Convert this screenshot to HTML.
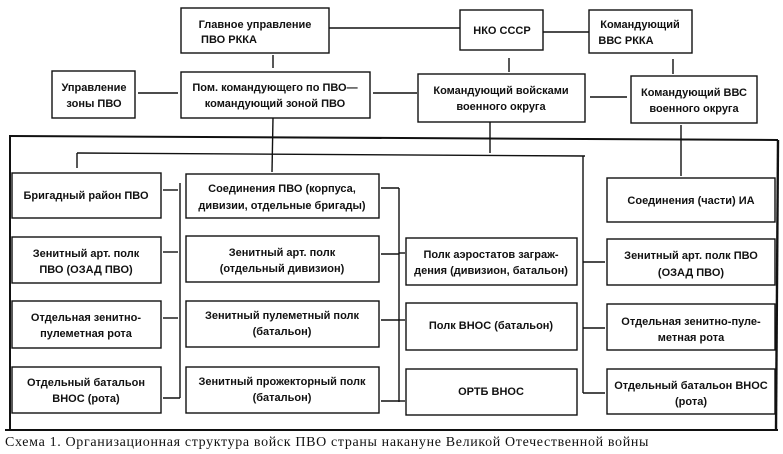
<!DOCTYPE html>
<html><head><meta charset="utf-8"><style>
html,body{margin:0;padding:0;background:#fff;}
svg{display:block}
text{font-family:"Liberation Sans","DejaVu Sans",sans-serif;font-weight:bold;font-size:11px;fill:#111;text-anchor:middle}
.c{font-family:"Liberation Serif",serif;font-weight:normal;font-size:14px;letter-spacing:0.65px;text-anchor:start}
</style></head><body>
<svg width="783" height="454" viewBox="0 0 783 454">
<g stroke="#111" stroke-width="1.4" fill="none">
<rect x="181" y="8" width="148" height="45"/>
<rect x="460" y="10" width="83" height="40"/>
<rect x="589" y="10" width="103" height="43"/>
<rect x="52" y="71" width="83" height="47"/>
<rect x="181" y="72" width="189" height="46"/>
<rect x="418" y="74" width="167" height="48"/>
<rect x="631" y="76" width="126" height="47"/>

<rect x="12" y="173" width="149" height="45"/>
<rect x="12" y="237" width="149" height="46"/>
<rect x="12" y="301" width="149" height="47"/>
<rect x="12" y="367" width="149" height="46"/>

<rect x="186" y="174" width="193" height="44"/>
<rect x="186" y="236" width="193" height="46"/>
<rect x="186" y="301" width="193" height="46"/>
<rect x="186" y="367" width="193" height="46"/>

<rect x="406" y="238" width="171" height="47"/>
<rect x="406" y="303" width="171" height="47"/>
<rect x="406" y="369" width="171" height="46"/>

<rect x="607" y="178" width="168" height="44"/>
<rect x="607" y="239" width="168" height="46"/>
<rect x="607" y="304" width="168" height="46"/>
<rect x="607" y="369" width="168" height="45"/>

<line x1="329" y1="28" x2="460" y2="28"/>
<line x1="543" y1="32" x2="589" y2="32"/>
<line x1="273" y1="55" x2="273" y2="68"/>
<line x1="509" y1="58" x2="509" y2="72"/>
<line x1="673" y1="59" x2="673" y2="74"/>
<line x1="138" y1="93" x2="178" y2="93"/>
<line x1="373" y1="93" x2="417" y2="93"/>
<line x1="590" y1="97" x2="627" y2="97"/>

<line x1="10" y1="136" x2="778" y2="140" stroke-width="2"/>
<line x1="10" y1="135" x2="10" y2="430" stroke-width="2"/>
<line x1="778" y1="140" x2="776" y2="430" stroke-width="2.4"/>
<line x1="5" y1="430" x2="778" y2="430" stroke-width="2"/>

<line x1="77" y1="153" x2="585" y2="156"/>
<line x1="77" y1="153" x2="77" y2="168"/>
<line x1="273" y1="118" x2="272" y2="172"/>
<line x1="490" y1="122" x2="490" y2="153"/>
<line x1="681" y1="125" x2="681" y2="176"/>
<line x1="583" y1="156" x2="583" y2="393"/>

<line x1="180" y1="183" x2="180" y2="398"/>
<line x1="163" y1="190" x2="178" y2="190"/>
<line x1="163" y1="252" x2="178" y2="252"/>
<line x1="163" y1="318" x2="178" y2="318"/>
<line x1="163" y1="398" x2="180" y2="398"/>

<line x1="399" y1="188" x2="399" y2="402"/>
<line x1="381" y1="188" x2="399" y2="188"/>
<line x1="381" y1="254" x2="399" y2="254"/>
<line x1="381" y1="320" x2="399" y2="320"/>
<line x1="381" y1="401" x2="399" y2="401"/>
<line x1="399" y1="253" x2="405" y2="253"/>
<line x1="399" y1="320" x2="405" y2="320"/>
<line x1="399" y1="401" x2="405" y2="401"/>

<line x1="583" y1="262" x2="605" y2="262"/>
<line x1="583" y1="328" x2="605" y2="328"/>
<line x1="583" y1="393" x2="605" y2="393"/>
</g>

<text x="255" y="28">Главное управление</text>
<text x="229" y="43">ПВО РККА</text>
<text x="502" y="34">НКО СССР</text>
<text x="640" y="28">Командующий</text>
<text x="626" y="44">ВВС РККА</text>
<text x="94" y="91">Управление</text>
<text x="94" y="107">зоны ПВО</text>
<text x="275" y="91">Пом. командующего по ПВО—</text>
<text x="275" y="107">командующий зоной ПВО</text>
<text x="501" y="94">Командующий войсками</text>
<text x="501" y="110">военного округа</text>
<text x="694" y="96">Командующий ВВС</text>
<text x="694" y="112">военного округа</text>

<text x="86" y="199">Бригадный район ПВО</text>
<text x="86" y="257">Зенитный арт. полк</text>
<text x="86" y="273">ПВО (ОЗАД ПВО)</text>
<text x="86" y="321">Отдельная зенитно-</text>
<text x="86" y="337">пулеметная рота</text>
<text x="86" y="386">Отдельный батальон</text>
<text x="86" y="402">ВНОС (рота)</text>

<text x="282" y="192">Соединения ПВО (корпуса,</text>
<text x="282" y="209">дивизии, отдельные бригады)</text>
<text x="282" y="256">Зенитный арт. полк</text>
<text x="282" y="272">(отдельный дивизион)</text>
<text x="282" y="319">Зенитный пулеметный полк</text>
<text x="282" y="335">(батальон)</text>
<text x="282" y="385">Зенитный прожекторный полк</text>
<text x="282" y="401">(батальон)</text>

<text x="491" y="258">Полк аэростатов заграж-</text>
<text x="491" y="274">дения (дивизион, батальон)</text>
<text x="491" y="329">Полк ВНОС (батальон)</text>
<text x="491" y="395">ОРТБ ВНОС</text>

<text x="691" y="204">Соединения (части) ИА</text>
<text x="691" y="259">Зенитный арт. полк ПВО</text>
<text x="691" y="276">(ОЗАД ПВО)</text>
<text x="691" y="325">Отдельная зенитно-пуле-</text>
<text x="691" y="341">метная рота</text>
<text x="691" y="389">Отдельный батальон ВНОС</text>
<text x="691" y="405">(рота)</text>

<text class="c" x="5" y="446">Схема 1. Организационная структура войск ПВО страны накануне Великой Отечественной войны</text>
</svg>
</body></html>
